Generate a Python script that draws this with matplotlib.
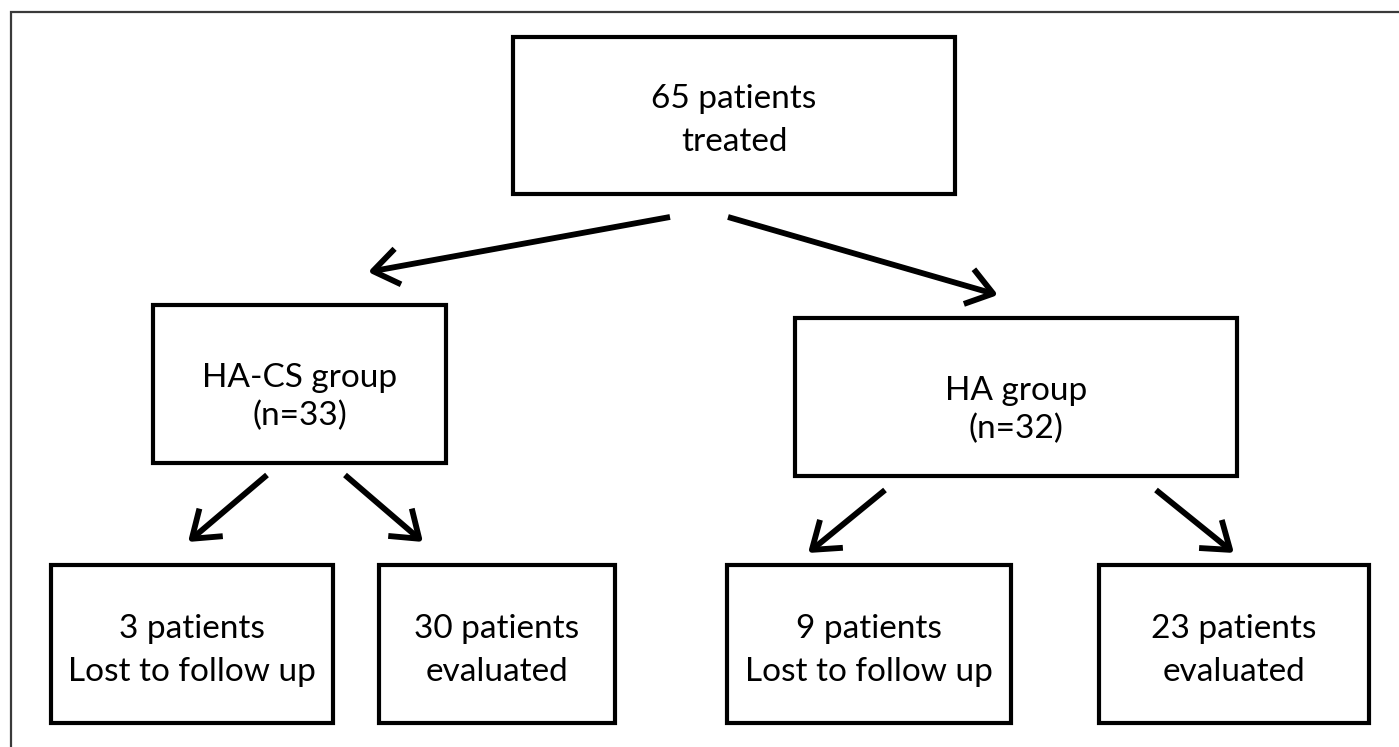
import matplotlib
matplotlib.use("Agg")
import matplotlib.pyplot as plt
from matplotlib.patches import Rectangle

# ---- data ----
total_treated = 65
group_names = ["HA-CS group", "HA group"]
group_n = [33, 32]
lost_to_follow_up = [3, 9]
evaluated = [30, 23]

# ---- layout (pixel coordinates, y downward) ----
W, H = 1399, 747
top_box = (513, 37, 955, 194)
group_boxes = [(153, 305, 446, 463), (795, 318, 1237, 476)]
leaf_boxes = [(51, 565, 333, 723), (379, 565, 615, 723),
              (727, 565, 1011, 723), (1099, 565, 1369, 723)]
arrows = [((670, 217), (368, 272)), ((728, 217), (998, 295)),
          ((267, 475), (188, 542)), ((345, 475), (423, 542)),
          ((885, 490), (808, 553)), ((1156, 490), (1234, 553))]

FONT = "Lato"
FS = 24

fig = plt.figure(figsize=(W / 100, H / 100), dpi=100)
ax = fig.add_axes([0, 0, 1, 1])
ax.set_xlim(0, W)
ax.set_ylim(H, 0)
ax.axis("off")

# outer frame (left and top only visible)
ax.plot([11, 11, W + 5], [H + 5, 12, 12], color="#3a3a3a", lw=1.6,
        solid_joinstyle="miter")


def box(b, lines, baselines):
    x0, y0, x1, y1 = b
    ax.add_patch(Rectangle((x0, y0), x1 - x0, y1 - y0, fill=False,
                           edgecolor="black", lw=3.0, joinstyle="miter"))
    cx = (x0 + x1) / 2
    for t, yb in zip(lines, baselines):
        ax.text(cx, y0 + yb, t, ha="center", va="baseline",
                fontsize=FS, family=FONT, color="black")


box(top_box, [f"{total_treated} patients", "treated"], [71, 114])
for b, name, n in zip(group_boxes, group_names, group_n):
    box(b, [name, f"(n={n})"], [82, 120])

leaf_texts = []
for lost, ev in zip(lost_to_follow_up, evaluated):
    leaf_texts.append([f"{lost} patients", "Lost to follow up"])
    leaf_texts.append([f"{ev} patients", "evaluated"])
for b, lines in zip(leaf_boxes, leaf_texts):
    box(b, lines, [73, 116])

for (p0, p1) in arrows:
    ax.annotate("", xy=p1, xytext=p0,
                arrowprops=dict(arrowstyle="->,head_length=0.7,head_width=0.5",
                                lw=4.2, color="black", mutation_scale=26,
                                shrinkA=0, shrinkB=0, capstyle="butt"))

fig.savefig("out.png", dpi=100, facecolor="white")
